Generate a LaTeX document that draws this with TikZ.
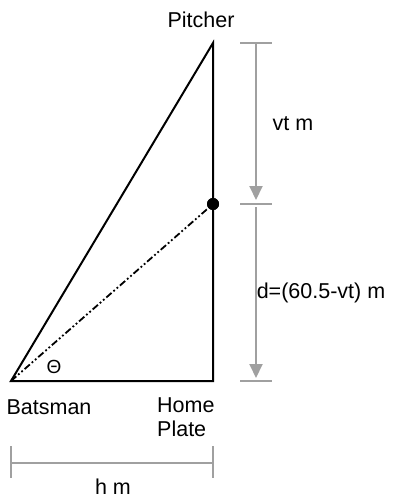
\documentclass[tikz,border=0pt]{standalone}
\usepackage{fontspec}
\setmainfont{Liberation Sans}
\usetikzlibrary{arrows.meta}
\definecolor{dimgray}{RGB}{160,160,160}
\tikzset{
  tri/.style={line width=2pt, black, line join=miter},
  dim/.style={line width=2pt, dimgray},
  dimarrow/.style={line width=2pt, dimgray, -{Triangle[length=14pt,width=13pt]}},
  lbl/.style={font=\fontsize{21.5}{24}\selectfont, inner sep=0pt},
  ballline/.style={line width=1.8pt, dash pattern=on 7pt off 2.5pt on 1.8pt off 2.5pt on 1.8pt off 2.5pt}
}
\begin{document}
\begin{tikzpicture}[x=1pt,y=-1pt]
\useasboundingbox (0,0) rectangle (409,500);
\coordinate (B) at (11,381);
\coordinate (H) at (213,381);
\coordinate (P) at (213,43);
\node[circle, fill=black, minimum size=12pt, inner sep=0pt] (ball) at (213,204) {};
% triangle
\draw[tri] (B) -- (P) -- (H) -- cycle;
\draw[ballline] (B) -- (ball.center);
\node[circle, fill=black, minimum size=12pt, inner sep=0pt] at (ball) {};
% vertical dimension
\coordinate (t1l) at (240,43); \coordinate (t1r) at (272,43);
\coordinate (t2l) at (240,204); \coordinate (t2r) at (272,204);
\coordinate (t3l) at (240,381); \coordinate (t3r) at (272,381);
\draw[dim] (t1l) -- (t1r);
\draw[dim] (t2l) -- (t2r);
\draw[dim] (t3l) -- (t3r);
\coordinate (a1s) at (256,43); \coordinate (a1e) at (256,200);
\coordinate (a2s) at (256,207); \coordinate (a2e) at (256,378);
\draw[dimarrow] (a1s) -- (a1e);
\draw[dimarrow] (a2s) -- (a2e);
% horizontal dimension
\coordinate (hl1) at (11,446); \coordinate (hl2) at (11,478);
\coordinate (hr1) at (213,446); \coordinate (hr2) at (213,478);
\coordinate (hs) at (11,463); \coordinate (he) at (213,463);
\draw[dim] (hl1) -- (hl2);
\draw[dim] (hr1) -- (hr2);
\draw[dim] (hs) -- (he);
% labels
\node[lbl] (pitcher) at (201,20) {Pitcher};
\node[lbl] (vt) at (293,124) {vt m};
\node[lbl] (d) at (321,293) {d=(60.5-vt) m};
\node[lbl, font=\fontsize{19}{22}\selectfont] (theta) at (54,367) {Θ};
\node[lbl] (bat) at (49,407) {Batsman};
\node[lbl, align=left, anchor=west] (home) at (157,417) {Home\\Plate};
\node[lbl] (hm) at (113,487) {h m};
\end{tikzpicture}
\end{document}
